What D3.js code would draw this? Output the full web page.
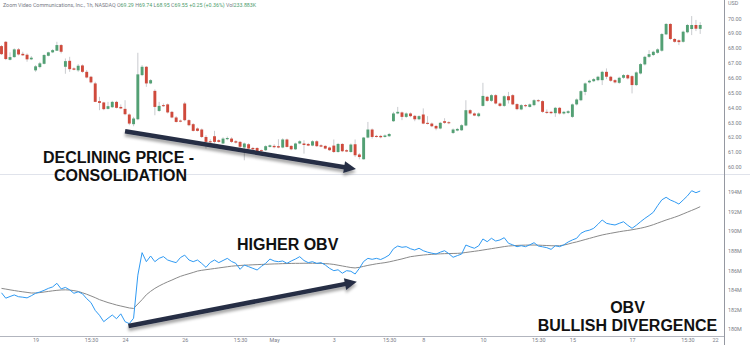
<!DOCTYPE html>
<html><head><meta charset="utf-8">
<script src="https://cdn.jsdelivr.net/npm/d3@7"></script>
<style>html,body{margin:0;padding:0;background:#fff;overflow:hidden}</style>
</head><body><svg id="c" width="750" height="345"></svg>
<script>
// ---- data (1h bars, Zoom Video Communications) ----
const open = [68.13,68.42,67.21,67.39,67.91,67.61,67.55,67.24,66.50,66.72,66.94,67.48,67.71,67.82,68.20,66.74,67.14,66.63,66.50,66.83,
66.40,66.07,65.62,64.43,64.34,63.91,64.02,64.38,64.04,63.91,63.53,62.88,63.21,66.18,66.74,65.62,65.12,63.77,64.16,64.21,
63.71,63.33,63.12,64.27,63.15,62.88,62.59,62.52,62.02,61.73,62.07,61.80,61.58,61.87,61.91,61.73,61.69,61.31,61.53,61.28,
61.28,61.13,61.13,61.35,61.42,61.40,61.31,61.85,61.42,61.19,61.58,61.58,61.55,61.44,61.73,61.46,61.42,61.31,61.44,61.01,
61.55,61.13,61.01,61.53,60.84,60.52,61.98,62.52,62.09,62.09,62.02,62.07,63.08,63.60,63.67,63.37,63.60,63.44,63.21,63.53,
62.97,62.92,62.76,62.59,63.08,63.01,62.29,62.45,62.47,62.79,63.82,63.60,63.42,64.11,64.72,64.45,64.83,64.27,64.11,64.76,
64.83,64.23,63.87,64.16,64.04,64.16,64.49,64.43,63.71,63.71,63.62,63.98,63.60,63.64,63.37,64.21,64.49,65.05,65.69,65.77,
65.84,65.84,66.40,66.07,65.84,65.66,66.00,66.18,66.11,65.51,66.29,66.90,67.41,67.53,67.68,67.82,68.92,69.62,68.61,68.52,
68.42,69.06,69.28,69.55,69.29];
const high = [68.20,68.47,67.71,67.98,68.00,67.75,67.64,67.46,66.85,67.07,67.59,67.75,67.93,68.42,68.27,67.30,67.41,66.70,66.92,66.90,
66.52,66.13,65.73,64.72,64.38,64.38,64.45,64.45,64.21,64.49,63.60,63.37,67.68,66.85,66.79,65.91,65.22,64.38,64.27,64.27,
63.77,63.42,63.19,64.38,63.21,62.95,62.66,62.59,62.14,61.87,62.43,61.87,62.00,62.05,62.00,61.80,61.75,61.64,61.60,61.35,
61.33,61.17,61.46,61.51,61.53,61.87,61.93,61.91,61.46,61.64,61.80,61.80,61.62,61.80,61.80,61.53,61.46,61.37,61.85,61.62,
61.60,61.19,61.58,61.85,60.93,62.02,63.03,62.59,62.16,62.16,62.19,62.29,63.71,64.04,63.73,63.67,63.67,63.50,63.48,63.94,
63.42,62.99,62.83,63.03,63.28,63.08,62.59,62.63,62.88,64.49,63.89,63.67,63.67,65.66,64.78,64.90,64.90,64.34,64.83,65.05,
64.90,64.29,64.23,64.23,64.27,64.56,64.56,64.49,63.87,63.77,64.04,64.04,63.77,63.82,64.27,64.61,65.17,65.69,65.87,65.98,
66.13,66.47,66.63,66.13,65.91,66.07,66.25,66.25,66.18,66.43,66.99,67.48,67.86,67.82,67.98,69.01,69.68,69.68,68.67,68.58,
69.17,69.62,70.15,69.89,69.74];
const low = [67.53,67.19,67.17,67.35,67.50,67.48,67.08,67.19,66.40,66.63,66.90,67.44,67.66,67.80,67.64,66.27,66.40,66.50,66.40,66.33,
65.96,65.62,64.36,63.82,63.82,63.87,63.98,63.94,63.89,63.48,62.81,62.74,63.15,66.11,65.39,65.57,63.48,63.71,64.04,63.60,
63.28,62.99,63.01,63.08,62.74,62.39,62.39,61.95,61.24,61.60,61.58,61.64,61.53,61.80,61.62,61.58,61.26,60.45,61.19,61.13,
61.04,61.00,61.06,61.31,61.26,61.26,61.26,61.31,61.13,61.15,61.53,60.90,61.40,61.40,61.35,61.33,61.19,61.08,60.94,60.96,
61.00,61.00,60.96,60.67,60.52,60.50,61.93,61.91,61.98,61.93,61.98,62.02,63.03,63.55,63.15,63.30,63.35,63.08,63.15,62.88,
62.86,62.68,62.47,62.54,62.90,62.88,62.22,62.40,62.43,62.74,63.53,63.42,63.35,64.07,64.38,64.38,64.21,64.04,64.04,64.27,
64.16,63.82,63.82,64.02,64.00,64.09,64.36,63.64,63.57,63.55,63.37,63.53,63.53,63.57,63.30,64.14,64.43,64.83,65.62,65.71,
65.77,65.51,65.91,65.73,65.62,65.59,65.93,65.89,64.95,65.44,66.23,66.83,67.34,67.46,67.62,67.75,68.87,68.54,68.36,68.20,
68.36,68.99,68.87,69.14,68.95];
const close = [67.59,67.26,67.39,67.91,67.57,67.51,67.24,67.35,66.77,66.97,67.53,67.71,67.86,68.20,67.75,67.12,66.58,66.54,66.81,66.40,
66.02,65.69,64.38,64.31,63.89,64.09,64.38,63.98,63.94,63.55,62.92,63.26,66.23,66.74,65.62,65.84,64.04,64.11,64.09,63.67,
63.33,63.03,63.05,63.15,62.81,62.43,62.43,62.02,61.69,61.66,61.69,61.69,61.91,61.95,61.69,61.64,61.36,61.58,61.24,61.19,
61.08,61.06,61.40,61.46,61.33,61.31,61.85,61.35,61.19,61.58,61.73,61.48,61.44,61.73,61.40,61.37,61.24,61.13,61.01,61.55,
61.06,61.04,61.51,60.79,60.67,61.98,62.52,62.02,62.02,62.00,62.12,62.22,63.60,63.71,63.37,63.60,63.42,63.21,63.42,62.92,
62.90,62.74,62.59,62.97,62.97,62.95,62.52,62.56,62.81,63.82,63.60,63.46,63.60,64.78,64.45,64.83,64.27,64.11,64.76,64.49,
64.21,63.89,64.16,64.09,64.21,64.49,64.45,63.71,63.64,63.62,63.98,63.60,63.71,63.75,64.21,64.54,65.10,65.62,65.80,65.91,
66.07,66.40,66.07,65.80,65.69,66.00,66.18,65.96,65.51,66.36,66.92,67.41,67.59,67.75,67.91,68.94,69.62,68.61,68.42,68.40,
69.10,69.55,69.55,69.30,69.55];
// On Balance Volume, millions
const obv = [183.70,183.15,183.32,183.48,183.30,183.25,183.18,183.40,183.65,183.78,183.95,184.15,184.30,184.67,184.10,184.25,184.00,183.65,183.80,183.60,
183.10,182.70,181.90,181.40,180.75,181.10,181.43,181.05,181.55,180.75,180.55,181.10,185.50,187.80,186.88,187.46,186.88,187.22,187.40,187.05,
186.90,186.78,187.30,187.55,187.05,186.88,187.05,186.70,186.30,186.80,187.05,186.78,187.00,187.22,186.90,186.71,186.10,186.54,186.37,186.20,
186.03,186.40,186.71,187.15,186.95,186.88,186.95,186.71,186.95,187.15,187.39,187.00,186.78,186.88,186.70,186.78,186.54,186.20,185.96,186.05,
185.70,185.96,185.90,185.62,186.20,186.90,187.22,187.12,187.22,187.10,187.30,187.56,188.20,188.48,188.35,188.41,188.20,188.07,188.25,188.00,
187.85,187.75,187.66,187.85,188.00,187.70,187.33,187.50,187.66,188.58,188.40,188.25,188.50,189.20,188.92,189.27,188.99,189.10,189.33,188.76,
188.60,188.41,188.51,188.41,188.60,188.82,188.48,188.40,188.31,188.14,188.51,188.41,188.60,188.89,189.10,189.27,189.78,190.00,190.10,190.29,
190.70,191.14,190.80,190.70,190.63,190.80,190.96,190.60,190.29,190.60,190.96,191.30,191.60,191.93,192.60,193.20,193.46,193.18,193.00,192.77,
193.18,193.60,194.13,193.93,194.10];
const obvMA = [184.15,184.08,184.00,183.93,183.86,183.80,183.74,183.68,183.68,183.72,183.78,183.84,183.90,183.95,183.99,184.00,183.98,183.92,183.84,183.70,
183.55,183.38,183.20,183.00,182.85,182.70,182.58,182.45,182.35,182.25,182.15,182.10,182.55,183.00,183.50,183.85,184.15,184.40,184.62,184.82,
185.00,185.20,185.38,185.52,185.65,185.78,185.92,186.00,186.06,186.12,186.18,186.24,186.30,186.36,186.42,186.46,186.49,186.52,186.54,186.56,
186.58,186.60,186.61,186.63,186.65,186.66,186.68,186.69,186.70,186.71,186.71,186.72,186.72,186.72,186.71,186.70,186.68,186.65,186.60,186.52,
186.44,186.36,186.28,186.24,186.30,186.40,186.50,186.58,186.66,186.72,186.78,186.86,186.96,187.06,187.16,187.28,187.39,187.45,187.51,187.56,
187.60,187.63,187.66,187.68,187.70,187.71,187.72,187.73,187.76,187.82,187.88,187.94,188.00,188.07,188.14,188.21,188.28,188.35,188.42,188.48,
188.51,188.54,188.56,188.57,188.58,188.58,188.57,188.55,188.53,188.51,188.50,188.51,188.58,188.68,188.80,188.90,189.02,189.14,189.26,189.38,
189.50,189.61,189.70,189.78,189.86,189.94,190.01,190.07,190.14,190.22,190.30,190.40,190.52,190.66,190.82,190.98,191.14,191.28,191.42,191.58,
191.76,191.94,192.12,192.30,192.50];
const priceTicks = [60,61,62,63,64,65,66,67,68,69,70];
const obvTicks = [180,182,184,186,188,190,192,194];
const xTickBars = [8,21,29,43,56,64,78,91,99,113,126,134,148,161,167.5];
const xTickLabels = ["19","15:30","24","26","15:30","May","3","15:30","8","10","15:30","15","17","15:30","22"];
// annotation arrows: [barStart, valueStart, barEnd, valueEnd]
const priceArrow = [29, 62.41, 83.2, 59.86];
const obvArrow = [29.8, 180.31, 83.4, 184.83];

// ---- layout ----
const W = 750, H = 345, axisX = 724;
const svg = d3.select("#c");
svg.append("rect").attr("width",W).attr("height",H).attr("fill","#fff");
const x = d3.scaleLinear().domain([0,164]).range([1.5,700.2]);
const yP = d3.scaleLinear().domain([60,70]).range([167,18.3]);
const yO = d3.scaleLinear().domain([180,194]).range([329,192]);

const defs = svg.append("defs");
const f = defs.append("filter").attr("id","sh").attr("x","-20%").attr("y","-50%").attr("width","140%").attr("height","200%");
f.append("feDropShadow").attr("dx",0).attr("dy",3).attr("stdDeviation",1.8).attr("flood-color","#000").attr("flood-opacity",0.35);

// frame lines
svg.append("line").attr("x1",0).attr("x2",W).attr("y1",174.5).attr("y2",174.5).attr("stroke","#e0e3eb").attr("stroke-width",1);
svg.append("line").attr("x1",0).attr("x2",axisX).attr("y1",336.5).attr("y2",336.5).attr("stroke","#b2b5be").attr("stroke-width",1);
svg.append("line").attr("x1",axisX+0.5).attr("x2",axisX+0.5).attr("y1",0).attr("y2",H).attr("stroke","#9598a1").attr("stroke-width",1);

// header
const hdr = svg.append("text").attr("x",3).attr("y",7).attr("font-family","Roboto, 'Liberation Sans', sans-serif").attr("font-size",5.3).attr("fill","#787b86");
hdr.append("tspan").text("Zoom Video Communications, Inc., 1h, NASDAQ ");
const vals = [["O","69.29"],["H","69.74"],["L","68.95"],["C","69.55"]];
vals.forEach(v => { hdr.append("tspan").text(" "+v[0]); hdr.append("tspan").attr("fill","#4e9d6c").text(v[1]); });
hdr.append("tspan").attr("fill","#4e9d6c").text(" +0.25 (+0.36%)");
hdr.append("tspan").text(" Vol");
hdr.append("tspan").attr("fill","#4e9d6c").text("233.883K");

// candles
const idx = d3.range(open.length);
const up = "#53a074", dn = "#cf4a3c";
const g = svg.append("g");
g.selectAll("line.w").data(idx).join("line").attr("class","w")
  .attr("x1",i=>x(i)).attr("x2",i=>x(i)).attr("y1",i=>yP(high[i])).attr("y2",i=>yP(low[i]))
  .attr("stroke","#c3c5c9").attr("stroke-width",0.9);
g.selectAll("rect.b").data(idx).join("rect").attr("class","b")
  .attr("x",i=>x(i)-1.45).attr("width",2.9)
  .attr("y",i=>yP(Math.max(open[i],close[i])))
  .attr("height",i=>Math.max(1,Math.abs(yP(open[i])-yP(close[i]))))
  .attr("fill",i=>close[i]>=open[i]?up:dn);

// OBV lines
svg.append("path").datum(idx).attr("fill","none").attr("stroke","#8a8a8a").attr("stroke-width",1)
  .attr("d", d3.line().x(i=>x(i)).y(i=>yO(obvMA[i])));
svg.append("path").datum(idx).attr("fill","none").attr("stroke","#2f9af3").attr("stroke-width",1)
  .attr("d", d3.line().x(i=>x(i)).y(i=>yO(obv[i])));

// axes
const axFont = "Roboto, 'Liberation Sans', sans-serif";
const pa = svg.append("g").attr("transform",`translate(${axisX},0)`)
  .call(d3.axisRight(yP).tickValues(priceTicks).tickFormat(d3.format(".2f")).tickSize(0).tickPadding(4));
const oa = svg.append("g").attr("transform",`translate(${axisX},0)`)
  .call(d3.axisRight(yO).tickValues(obvTicks).tickFormat(d=>d+"M").tickSize(0).tickPadding(4));
const xa = svg.append("g").attr("transform","translate(0,336)")
  .call(d3.axisBottom(x).tickValues(xTickBars).tickFormat((d,i)=>xTickLabels[i]).tickSize(0).tickPadding(2));
[pa,oa,xa].forEach(a=>{ a.select(".domain").remove(); a.selectAll("text").attr("font-family",axFont).attr("font-size",5.4).attr("fill","#7a7d86"); });
svg.append("text").attr("x",axisX+4).attr("y",5).attr("font-family",axFont).attr("font-size",5.4).attr("fill","#7a7d86").text("USD");

// annotations
function arrow(a, ys){
  const x1=x(a[0]), y1=ys(a[1]), x2=x(a[2]), y2=ys(a[3]);
  const ang=Math.atan2(y2-y1,x2-x1), L=12, Wd=6;
  const bx=x2-L*Math.cos(ang), by=y2-L*Math.sin(ang);
  const gg=svg.append("g").attr("filter","url(#sh)");
  gg.append("line").attr("x1",x1).attr("y1",y1).attr("x2",bx+2*Math.cos(ang)).attr("y2",by+2*Math.sin(ang))
    .attr("stroke","#262e44").attr("stroke-width",4.5);
  gg.append("path").attr("d",`M${x2},${y2}L${bx-Wd*Math.sin(ang)},${by+Wd*Math.cos(ang)}L${bx+Wd*Math.sin(ang)},${by-Wd*Math.cos(ang)}Z`)
    .attr("fill","#262e44");
}
arrow(priceArrow, yP);
arrow(obvArrow, yO);

const tf = "'Liberation Sans', Arial, sans-serif";
function label(t, xx, yy, anchor){
  svg.append("text").attr("x",xx).attr("y",yy).attr("text-anchor",anchor||"start")
    .attr("font-family",tf).attr("font-weight","bold").attr("font-size",16).attr("fill","#111").text(t);
}
label("DECLINING PRICE -", 43, 163);
label("CONSOLIDATION", 54, 181);
label("HIGHER OBV", 237, 250);
label("OBV", 627.5, 313, "middle");
label("BULLISH DIVERGENCE", 627.5, 331, "middle");
</script></body></html>
